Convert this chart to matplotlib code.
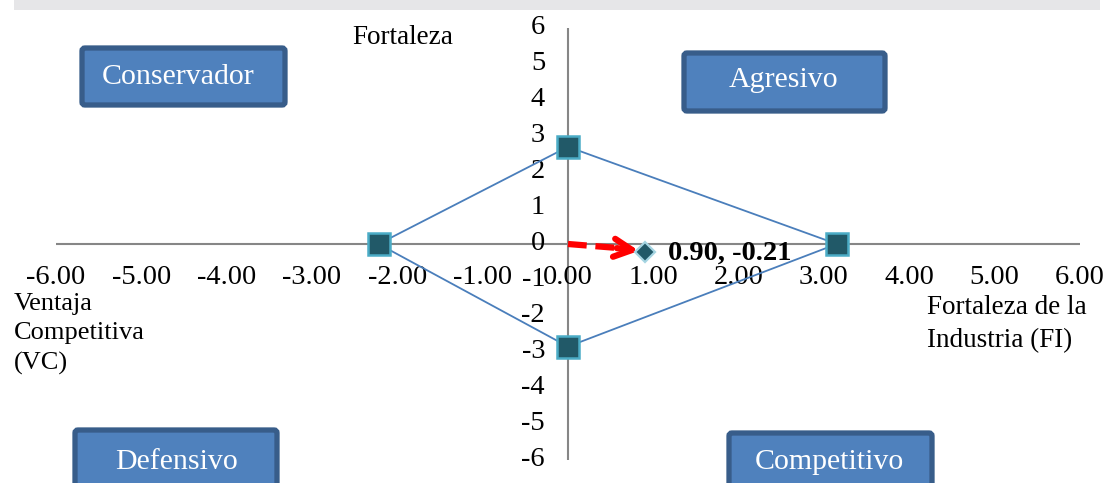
import numpy as np
import matplotlib
matplotlib.use('Agg')
import matplotlib.pyplot as plt
from matplotlib.patches import FancyBboxPatch, Rectangle

plt.rcParams['font.family'] = ['Liberation Serif', 'DejaVu Serif']

# Vertices de la matriz (FF arriba, FI derecha, EA abajo, VC izquierda)
vert_x = [0.0, 3.15, 0.0, -2.22, 0.0]
vert_y = [2.7, 0.0, -2.85, 0.0, 2.7]

# Vector direccional resultante
vec_x = 0.90
vec_y = -0.21
vec_label = '0.90, -0.21'

# Etiquetas de los ejes
x_ticks = [-6, -5, -4, -3, -2, -1, 0, 1, 2, 3, 4, 5, 6]
x_tick_labels = ['-6.00', '-5.00', '-4.00', '-3.00', '-2.00', '-1.00', '0.00',
                 '1.00', '2.00', '3.00', '4.00', '5.00', '6.00']
y_ticks = [6, 5, 4, 3, 2, 1, 0, -1, -2, -3, -4, -5, -6]
y_tick_labels = ['6', '5', '4', '3', '2', '1', '0', '-1', '-2', '-3', '-4', '-5', '-6']

# Cuadrantes
cuadrantes = ['Conservador', 'Agresivo', 'Defensivo', 'Competitivo']

fig = plt.figure(figsize=(11.1, 4.83), dpi=100)

# Capa en pixeles para cajas y textos sueltos
ov = fig.add_axes([0, 0, 1, 1], zorder=0)
ov.set_xlim(0, 1110)
ov.set_ylim(483, 0)
ov.axis('off')

# franja gris de fondo arriba
ov.add_patch(Rectangle((14, 0), 1086, 10, fc='#e6e6e8', ec='none'))

# (x0, y0, x1, y1, texto_x, texto_y)
cajas = [(82, 48, 285, 105, 178, 77),
         (684, 53, 885, 111, 784, 80),
         (75, 430, 277, 500, 176, 462),
         (729, 433, 932, 500, 829, 462)]
for nombre, (x0, y0, x1, y1, tx, ty) in zip(cuadrantes, cajas):
    ov.add_patch(FancyBboxPatch((x0, y0), x1 - x0, y1 - y0,
                                boxstyle='round,pad=0,rounding_size=3',
                                fc='#4F81BD', ec='#385D8A', lw=3.8))
    ov.text(tx, ty, nombre, color='white', fontsize=21.5, ha='center', va='center')

ov.text(352, 37, 'Fortaleza', fontsize=19.5, ha='left', va='center')
ov.text(14, 334, 'Ventaja\nCompetitiva\n(VC)', fontsize=19, ha='left', va='center',
        linespacing=1.45)
ov.text(927, 324, 'Fortaleza de la\nIndustria (FI)', fontsize=19.5, ha='left',
        va='center', linespacing=1.42)

# Ejes cartesianos
ax = fig.add_axes([56 / 1110, 23 / 483, 1024 / 1110, 432 / 483], zorder=1)
ax.set_xlim(-6, 6)
ax.set_ylim(-6, 6)
ax.axis('off')
ax.patch.set_alpha(0)

ax.axhline(0, color='#868686', lw=1.5, zorder=1)
ax.axvline(0, color='#868686', lw=1.5, zorder=1)

for v, lab in zip(x_ticks, x_tick_labels):
    ax.annotate(lab, (v, 0), xytext=(0, -24), textcoords='offset points',
                ha='center', va='center', fontsize=20.5)
for v, lab in zip(y_ticks, y_tick_labels):
    ax.annotate(lab, (0, v), xytext=(-16.5, 0), textcoords='offset points',
                ha='right', va='center', fontsize=20.5)

# Poligono
ax.plot(vert_x, vert_y, color='#4A7EBB', lw=1.3, zorder=3)
ax.plot(vert_x[:4], vert_y[:4], 's', ms=16.5, mfc='#215968', mec='#4BACC6',
        mew=1.8, zorder=4)

# Vector
ax.plot([0, vec_x * 0.8], [0, vec_y * 0.65], color='red', lw=4.5,
        ls=(0, (3, 1.4)), zorder=5)
ax.annotate('', xy=(vec_x * 0.96, vec_y * 0.95), xytext=(vec_x * 0.6, vec_y * 0.5),
            arrowprops=dict(arrowstyle='->,head_length=1.3,head_width=0.65',
                            color='red', lw=4.5), zorder=5)
ax.plot(vec_x, vec_y, 'D', ms=10, mfc='#215968', mec='#A5D5E2', mew=1.6, zorder=6)
ax.annotate(vec_label, (vec_x, vec_y), xytext=(17, -1), textcoords='offset points',
            ha='left', va='center', fontsize=20.5, fontweight='bold')

fig.savefig('out.png', dpi=100)
